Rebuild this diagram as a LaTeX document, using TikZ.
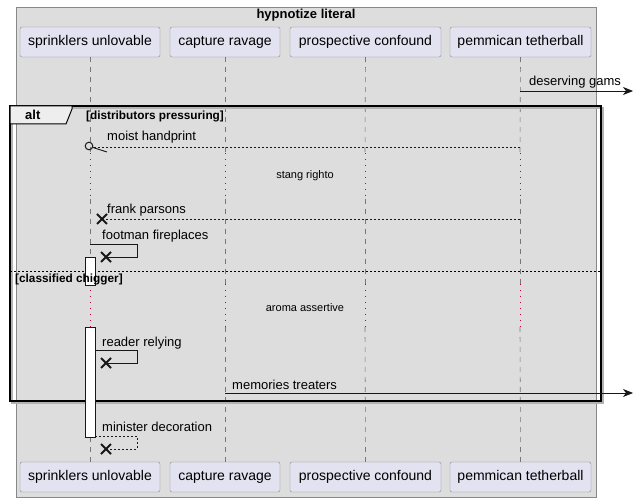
\documentclass[tikz,border=0pt]{standalone}
\usepackage{fontspec}
\setmainfont{Liberation Sans}
\usetikzlibrary{arrows.meta,calc}
\definecolor{bgbox}{HTML}{DDDDDD}
\definecolor{pfill}{HTML}{E2E2F0}
\definecolor{pborder}{HTML}{888888}
\definecolor{lifec}{HTML}{777777}
\definecolor{delayc}{HTML}{C00040}
\definecolor{tabfill}{HTML}{EEEEEE}
\definecolor{ink}{HTML}{181818}
\begin{document}
\begin{tikzpicture}[x=1pt,y=-1pt,
  part/.style={draw=pborder,fill=pfill,rounded corners=2pt,minimum height=30pt,inner sep=0pt,font=\fontsize{14}{16}\selectfont},
  msgtext/.style={anchor=base west,inner sep=0pt,font=\fontsize{13}{15}\selectfont},
  delaytext/.style={inner sep=0pt,font=\fontsize{11}{13}\selectfont},
  grouptext/.style={anchor=base west,inner sep=0pt,font=\bfseries\fontsize{11.8}{13}\selectfont},
  lifeline/.style={draw=lifec,dash pattern=on 5pt off 5pt,line width=0.6pt},
  delayline/.style={draw=delayc,dash pattern=on 1pt off 5pt,line width=0.8pt},
  solidmsg/.style={draw=ink,line width=0.9pt},
  dashmsg/.style={draw=ink,line width=0.9pt,dash pattern=on 2pt off 2pt},
  arrowmsg/.style={solidmsg,-{Stealth[length=10pt,width=8pt,inset=3pt]}},
  crossmark/.style={draw=ink,line width=1.8pt},
  actbar/.style={draw=ink,fill=white,line width=0.9pt}
]
\useasboundingbox (0,0) rectangle (634,502);
\fill[white] (0,0) rectangle (634,502);
% outer box
\draw[draw=pborder,fill=bgbox,line width=0.9pt] (16,7) rectangle (596,497);
\node[inner sep=0pt,font=\bfseries\fontsize{13}{15}\selectfont] (title) at (306,15) {hypnotize literal};
% participants
\node[part,minimum width=140pt] (p1) at (90,42) {sprinklers unlovable};
\node[part,minimum width=110pt] (p2) at (225,42) {capture ravage};
\node[part,minimum width=151pt] (p3) at (365.5,42) {prospective confound};
\node[part,minimum width=141pt] (p4) at (520.5,42) {pemmican tetherball};
\node[part,minimum width=140pt] (p1b) at (90,477) {sprinklers unlovable};
\node[part,minimum width=110pt] (p2b) at (225,477) {capture ravage};
\node[part,minimum width=151pt] (p3b) at (365.5,477) {prospective confound};
\node[part,minimum width=141pt] (p4b) at (520.5,477) {pemmican tetherball};
% lifelines with delays
\foreach \n/\x in {1/90,2/225,3/365,4/520}{
  \coordinate (d\n a) at (\x,153);
  \coordinate (d\n b) at (\x,199);
  \coordinate (d\n c) at (\x,284);
  \coordinate (d\n d) at (\x,327);
  \draw[lifeline] (p\n.south) -- (d\n a);
  \draw[delayline] (d\n a) -- (d\n b);
  \draw[lifeline] (d\n b) -- (d\n c);
  \draw[delayline] (d\n c) -- (d\n d);
  \draw[lifeline] (d\n d) -- (p\n b.north);
}
\node[delaytext] (dl1) at (305,176) {stang righto};
\node[delaytext] (dl2) at (305,308) {aroma assertive};
% deserving gams
\coordinate (m1s) at (520,91);
\coordinate (m1e) at (633,91);
\draw[arrowmsg] (m1s) -- (m1e);
\node[msgtext] (t1) at (529,86) {deserving gams};
% alt frame
\draw[draw=black!30,line width=1.2pt] (12,108) rectangle (603,403);
\draw[draw=black,line width=1.5pt] (10,106) rectangle (601,401);
\draw[draw=black,line width=1pt,fill=tabfill] (10,106) -- (72,106) -- (72,109) -- (66,124) -- (10,124) -- cycle;
\node[anchor=base west,inner sep=0pt,font=\bfseries\fontsize{13}{15}\selectfont] (alt) at (25,120) {alt};
\node[grouptext] (g1) at (86,120) {[distributors pressuring]};
\coordinate (sepl) at (10,271);
\coordinate (sepr) at (601,271);
\draw[draw=black,line width=0.9pt,dash pattern=on 2pt off 2pt] (sepl) -- (sepr);
% moist handprint
\coordinate (m2s) at (520,147);
\coordinate (m2e) at (93,147);
\coordinate (m2c) at (89,146);
\coordinate (m2h) at (107,152);
\draw[dashmsg] (m2s) -- (m2e);
\draw[draw=ink,line width=1pt] (m2c) circle (3.8pt);
\draw[draw=ink,line width=0.9pt] ($(m2c)+(3.6,1.4)$) -- (m2h);
\node[msgtext] (t2) at (107,141) {moist handprint};
% frank parsons
\coordinate (m3s) at (520,219);
\coordinate (m3e) at (102,219);
\draw[dashmsg] (m3s) -- (m3e);
\draw[crossmark] ($(m3e)+(-5,-5)$) -- ($(m3e)+(5,5)$);
\draw[crossmark] ($(m3e)+(-5,5)$) -- ($(m3e)+(5,-5)$);
\node[msgtext] (t3) at (107,214) {frank parsons};
% footman fireplaces
\coordinate (m4s) at (90,244);
\coordinate (m4a) at (137,244);
\coordinate (m4b) at (137,257);
\coordinate (m4e) at (106,257);
\draw[solidmsg] (m4s) -- (m4a) -- (m4b) -- (m4e);
\draw[crossmark] ($(m4e)+(-5,-5)$) -- ($(m4e)+(5,5)$);
\draw[crossmark] ($(m4e)+(-5,5)$) -- ($(m4e)+(5,-5)$);
\node[msgtext] (t4) at (102,240) {footman fireplaces};
% activation bars
\draw[actbar] (85,257) rectangle (95,285);
\draw[actbar] (85,327) rectangle (95,437);
\node[grouptext] (g2) at (15,283) {[classified chigger]};
% reader relying
\coordinate (m5s) at (95,350);
\coordinate (m5a) at (137,350);
\coordinate (m5b) at (137,363);
\coordinate (m5e) at (106,363);
\draw[solidmsg] (m5s) -- (m5a) -- (m5b) -- (m5e);
\draw[crossmark] ($(m5e)+(-5,-5)$) -- ($(m5e)+(5,5)$);
\draw[crossmark] ($(m5e)+(-5,5)$) -- ($(m5e)+(5,-5)$);
\node[msgtext] (t5) at (102,346) {reader relying};
% memories treaters
\coordinate (m6s) at (225,393);
\coordinate (m6e) at (633,393);
\draw[arrowmsg] (m6s) -- (m6e);
\node[msgtext] (t6) at (232,389) {memories treaters};
% minister decoration
\coordinate (m7s) at (95,436);
\coordinate (m7a) at (137,436);
\coordinate (m7b) at (137,449);
\coordinate (m7e) at (106,449);
\draw[dashmsg] (m7s) -- (m7a) -- (m7b) -- (m7e);
\draw[crossmark] ($(m7e)+(-5,-5)$) -- ($(m7e)+(5,5)$);
\draw[crossmark] ($(m7e)+(-5,5)$) -- ($(m7e)+(5,-5)$);
\node[msgtext] (t7) at (102,431) {minister decoration};
\end{tikzpicture}
\end{document}
